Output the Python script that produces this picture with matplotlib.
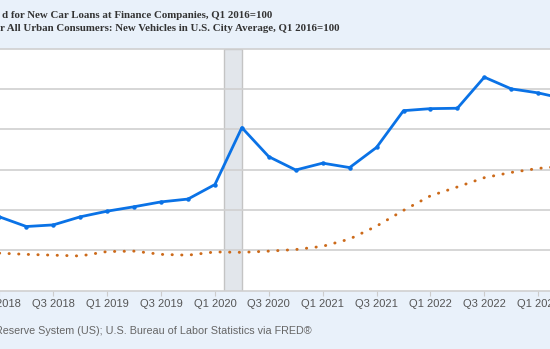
import numpy as np
import matplotlib.pyplot as plt

# quarterly index, Q1 2016=100 ; first point is Q1 2018
quarters = ["Q1 2018", "Q2 2018", "Q3 2018", "Q4 2018",
            "Q1 2019", "Q2 2019", "Q3 2019", "Q4 2019",
            "Q1 2020", "Q2 2020", "Q3 2020", "Q4 2020",
            "Q1 2021", "Q2 2021", "Q3 2021", "Q4 2021",
            "Q1 2022", "Q2 2022", "Q3 2022", "Q4 2022",
            "Q1 2023", "Q2 2023"]
car_loan_rate = [108.3, 105.9, 106.3, 108.3, 109.7, 110.8, 112.0, 112.7,
                 116.3, 130.4, 123.2, 119.9, 121.6, 120.5, 125.5, 134.6,
                 135.1, 135.2, 142.9, 140.0, 139.0, 137.5]
cpi_new_vehicles = [99.3, 99.0, 98.8, 98.6, 99.7, 99.8, 99.0, 98.8,
                    99.6, 99.5, 99.8, 100.2, 101.0, 102.8, 106.0, 109.9,
                    113.5, 115.7, 118.0, 119.3, 120.3, 120.9]
recession = (8 + 1/3, 9.0)  # Feb 2020 - Apr 2020

BG = "#e9f1fa"
GRID = "#d0d0d0"

W, H = 550, 349
fig = plt.figure(figsize=(W/100, H/100), dpi=100, facecolor=BG)

# pixel -> quarter mapping
q0_px, q_px = -0.6, 26.94
left_px, right_px = -10, 560
top_px, bot_px = 48.5, 290.7
ax = fig.add_axes([left_px/W, 1 - bot_px/H, (right_px-left_px)/W, (bot_px-top_px)/H])
ax.set_facecolor("white")

x = np.arange(len(quarters))
ax.axvspan(*recession, facecolor="#e2e6eb", edgecolor="#c4c4c4", lw=1, zorder=1)
ax.plot(x, car_loan_rate, color="#0a72e6", lw=2.0, marker="o", ms=2.2, zorder=4)
ax.plot(x, cpi_new_vehicles, color="#cc6a1a", lw=2.1,
        linestyle=(0, (0.1, 3.2)), dash_capstyle="round", zorder=3)

ax.set_xlim((left_px - q0_px)/q_px, (right_px - q0_px)/q_px)
ax.set_ylim(90, 150)
ax.set_yticks([100, 110, 120, 130, 140])
ax.yaxis.grid(True, color=GRID, lw=1.2, zorder=0)
ax.tick_params(axis="y", left=False, labelleft=False)
ax.set_xticks(x[::2])
ax.set_xticklabels(quarters[::2], fontsize=8, color="#555555", family="Liberation Sans")
ax.tick_params(axis="x", direction="out", length=3.5, width=0.8, color="#cccccc", pad=2.5)
for s in ["left", "right"]:
    ax.spines[s].set_visible(False)
for s in ["top", "bottom"]:
    ax.spines[s].set_color(GRID)
    ax.spines[s].set_linewidth(1.2)

fig.text(2/W, 1 - 16/H, "d for New Car Loans at Finance Companies, Q1 2016=100",
         fontsize=7.8, fontweight="bold", family="Liberation Serif", color="#333333", va="center")
fig.text(0/W, 1 - 28.5/H, "r All Urban Consumers: New Vehicles in U.S. City Average, Q1 2016=100",
         fontsize=7.8, fontweight="bold", family="Liberation Serif", color="#333333", va="center")
fig.text(-5/W, 1 - 330.5/H, "Reserve System (US); U.S. Bureau of Labor Statistics via FRED\u00ae",
         fontsize=7.75, family="Liberation Sans", color="#666666", va="center")

fig.savefig("out.png", dpi=100, facecolor=BG)
